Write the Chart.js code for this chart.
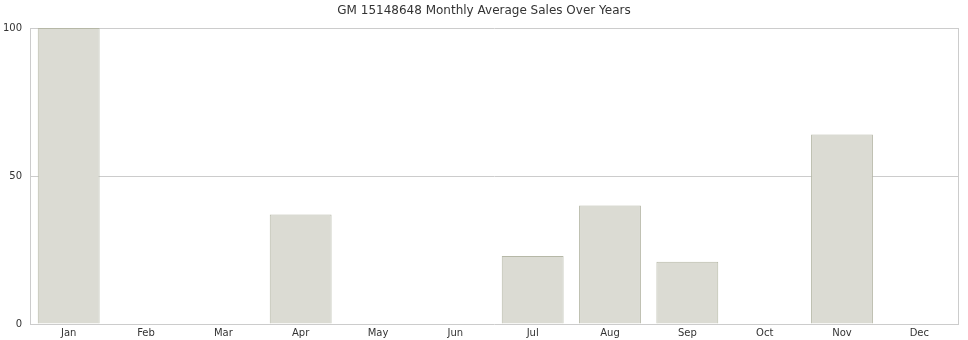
<!DOCTYPE html>
<html>
<head>
<meta charset="utf-8">
<script src="https://cdn.jsdelivr.net/npm/chart.js@4"></script>
<style>
html,body{margin:0;padding:0;background:#fff;}
#wrap{width:968px;height:340px;}
</style>
</head>
<body>
<div id="wrap"><canvas id="c" width="968" height="340"></canvas></div>
<script>
const categories = ["Jan","Feb","Mar","Apr","May","Jun","Jul","Aug","Sep","Oct","Nov","Dec"];
const salesValues = [100, 0, 0, 37, 0, 0, 23, 40, 21, 0, 64, 0];
const yTicks = [0, 50, 100];
const chartTitle = "GM 15148648 Monthly Average Sales Over Years";

const font = "'DejaVu Sans', sans-serif";
new Chart(document.getElementById('c'), {
  type: 'bar',
  data: {
    labels: categories,
    datasets: [{
      data: salesValues,
      backgroundColor: '#dbdbd3',
      borderColor: '#b6b8a7',
      borderWidth: 1,
      barPercentage: 0.8,
      categoryPercentage: 1.0
    }]
  },
  options: {
    responsive: false,
    animation: false,
    devicePixelRatio: 1,
    layout: { padding: { left: 0, right: 0, top: 0, bottom: 0 } },
    plugins: {
      legend: { display: false },
      tooltip: { enabled: false },
      title: {
        display: true,
        text: chartTitle,
        color: '#333333',
        font: { family: font, size: 12, weight: 'normal', lineHeight: 1.2 },
        padding: { top: 4, bottom: 9.6 }
      }
    },
    scales: {
      x: {
        grid: { display: false, drawTicks: false },
        border: { display: false },
        ticks: { color: '#333333', font: { family: font, size: 10 }, padding: 3, maxRotation: 0 },
        afterFit: s => { s.height = 16; }
      },
      y: {
        min: 0, max: 100,
        z: 1,
        afterBuildTicks: s => { s.ticks = yTicks.map(v => ({ value: v })); },
        grid: { color: '#cccccc', drawTicks: false, lineWidth: 1 },
        border: { display: true, color: '#cccccc' },
        ticks: { color: '#333333', font: { family: font, size: 10 }, padding: 8 },
        afterFit: s => { s.width = 30; }
      },
      y2: {
        position: 'right',
        min: 0, max: 100,
        grid: { display: false, drawTicks: false },
        border: { display: true, color: '#cccccc' },
        ticks: { display: false },
        afterFit: s => { s.width = 10; }
      }
    }
  }
});
</script>
</body>
</html>
